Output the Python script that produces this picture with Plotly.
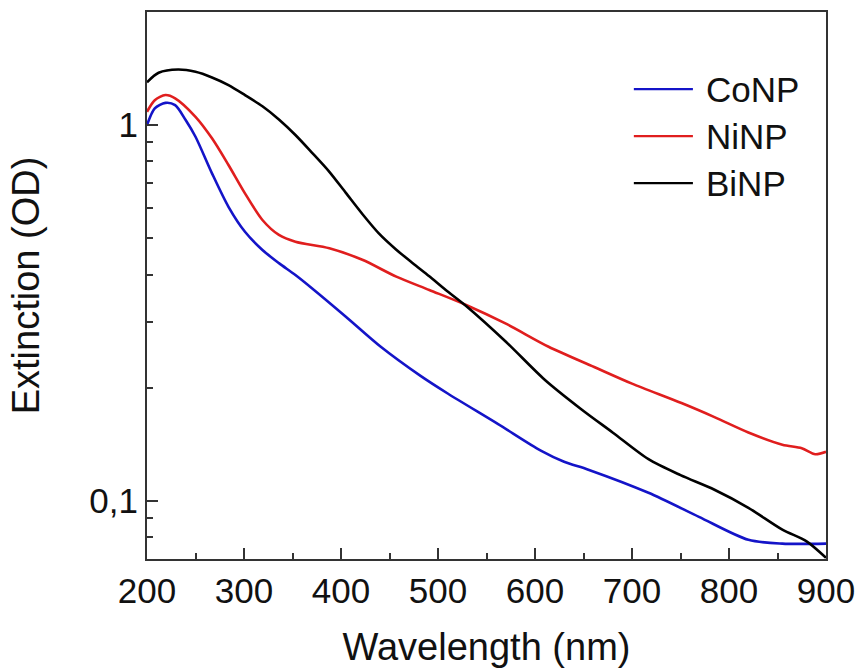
import plotly.graph_objects as go

# Extinction spectra of the three nanoparticle colloids (wavelength in nm, extinction in OD)
wl_co = [200, 208, 219, 229, 240, 250, 267, 284, 301, 319, 336, 353, 370, 405, 441,
         482, 510, 562, 606, 630, 655, 717, 769, 820, 855, 900]
ext_co = [1.00, 1.108, 1.146, 1.130, 1.03, 0.931, 0.744, 0.606, 0.520, 0.465, 0.429,
          0.399, 0.368, 0.309, 0.257, 0.215, 0.193, 0.160, 0.136, 0.127, 0.121, 0.105,
          0.0906, 0.0787, 0.0769, 0.0769]

wl_ni = [200, 208, 219, 229, 250, 267, 284, 301, 319, 336, 353, 388, 422, 457, 491,
         529, 570, 614, 661, 700, 751, 785, 820, 855, 875, 889, 900]
ext_ni = [1.085, 1.165, 1.202, 1.178, 1.052, 0.922, 0.783, 0.658, 0.559, 0.510, 0.489,
          0.470, 0.438, 0.395, 0.364, 0.332, 0.296, 0.257, 0.227, 0.205, 0.182, 0.167,
          0.152, 0.141, 0.138, 0.133, 0.135]

wl_bi = [200, 212, 232, 250, 267, 284, 301, 319, 336, 353, 370, 388, 405, 422, 439,
         457, 474, 491, 508, 529, 570, 610, 648, 680, 717, 750, 785, 820, 855, 880, 900]
ext_bi = [1.30, 1.378, 1.406, 1.386, 1.339, 1.278, 1.202, 1.122, 1.035, 0.941, 0.845,
          0.751, 0.660, 0.580, 0.515, 0.466, 0.429, 0.396, 0.364, 0.330, 0.265, 0.210,
          0.175, 0.152, 0.129, 0.117, 0.107, 0.0958, 0.0838, 0.078, 0.0705]

series_names = ["CoNP", "NiNP", "BiNP"]
series_colors = ["#1414c8", "#e01e1e", "#000000"]
series_x = [wl_co, wl_ni, wl_bi]
series_y = [ext_co, ext_ni, ext_bi]

x_ticks = [200, 300, 400, 500, 600, 700, 800, 900]
y_ticks = [0.1, 1]
y_tick_text = ["0,1", "1"]
y_minor = [0.08, 0.09, 0.2, 0.3, 0.4, 0.5, 0.6, 0.7, 0.8, 0.9, 2]

FONT = "Liberation Sans, Arial, sans-serif"
AX = "#333333"
TXT = "#111111"

fig = go.Figure()
for name, xs, ys, col in zip(series_names, series_x, series_y, series_colors):
    fig.add_trace(go.Scatter(x=xs, y=ys, name=name, mode="lines",
                             line=dict(color=col, width=2.6, shape="spline", smoothing=0.8),
                             showlegend=False))

# hand-built legend in the upper right of the plot area
leg_y = [0.859, 0.773, 0.687]
for name, col, ly in zip(series_names, series_colors, leg_y):
    fig.add_shape(type="line", xref="paper", yref="paper",
                  x0=0.717, x1=0.804, y0=ly, y1=ly,
                  line=dict(color=col, width=2.2))
    fig.add_annotation(xref="paper", yref="paper", x=0.82, y=ly, text=name,
                       showarrow=False, xanchor="left", yanchor="middle",
                       font=dict(family=FONT, size=35, color=TXT))

fig.update_layout(
    width=860, height=668,
    margin=dict(l=147, r=34, t=12, b=109),
    paper_bgcolor="white", plot_bgcolor="white",
    font=dict(family=FONT, color=TXT),
)
fig.update_xaxes(
    range=[200, 900], tickmode="array", tickvals=x_ticks, automargin=False,
    ticks="inside", ticklen=11, tickwidth=2, tickcolor=AX,
    minor=dict(dtick=50, tick0=200, ticks="inside", ticklen=6, tickwidth=2, tickcolor=AX),
    showline=True, linewidth=2, linecolor=AX, mirror=True,
    showgrid=False, zeroline=False,
    tickfont=dict(family=FONT, size=35, color=TXT),
    title=dict(text="Wavelength (nm)", font=dict(family=FONT, size=38, color=TXT), standoff=27),
)
fig.update_yaxes(
    type="log", range=[-1.155, 0.301], automargin=False,
    tickmode="array", tickvals=y_ticks, ticktext=y_tick_text,
    ticks="inside", ticklen=11, tickwidth=2, tickcolor=AX,
    minor=dict(tickmode="array", tickvals=y_minor, ticks="inside", ticklen=6,
               tickwidth=2, tickcolor=AX),
    showline=True, linewidth=2, linecolor=AX, mirror=True,
    showgrid=False, zeroline=False,
    tickfont=dict(family=FONT, size=35, color=TXT),
    title=dict(text="Extinction (OD)", font=dict(family=FONT, size=38, color=TXT), standoff=38),
)

fig.write_html("out.html")
